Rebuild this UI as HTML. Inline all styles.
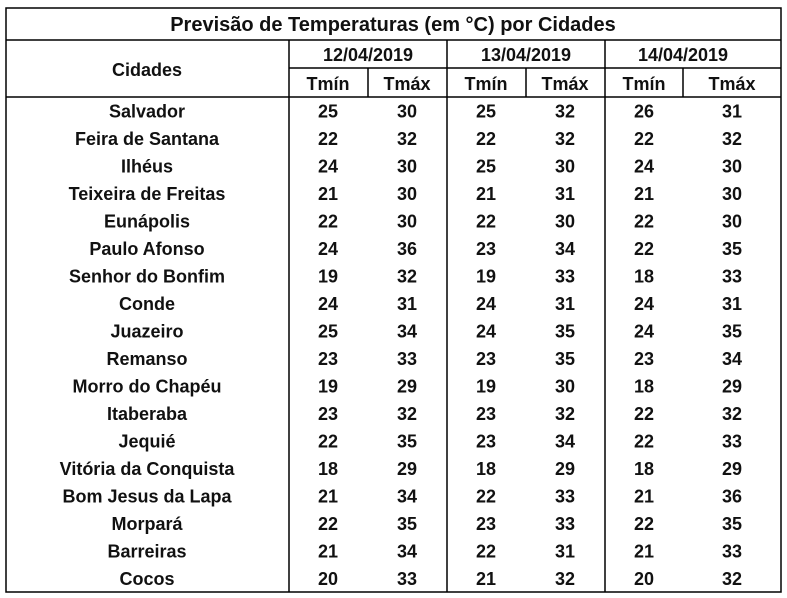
<!DOCTYPE html>
<html><head><meta charset="utf-8"><style>
html,body{margin:0;padding:0;background:#fff;}
svg{display:block;}
text{font-family:"Liberation Sans",sans-serif;font-weight:bold;fill:#111;text-anchor:middle;}
</style></head><body>
<svg width="787" height="598" viewBox="0 0 787 598" xmlns="http://www.w3.org/2000/svg">
<g stroke="#000" stroke-width="1.5" fill="none">
<rect x="6" y="8" width="775" height="584"/>
<line x1="6" y1="40" x2="781" y2="40"/>
<line x1="289" y1="68" x2="781" y2="68"/>
<line x1="6" y1="97" x2="781" y2="97"/>
<line x1="289" y1="40" x2="289" y2="592"/>
<line x1="447" y1="40" x2="447" y2="592"/>
<line x1="605" y1="40" x2="605" y2="592"/>
<line x1="368" y1="68" x2="368" y2="97"/>
<line x1="526" y1="68" x2="526" y2="97"/>
<line x1="683" y1="68" x2="683" y2="97"/>
</g>
<text x="393" y="31" font-size="20">Previsão de Temperaturas (em °C) por Cidades</text>
<text x="147" y="76" font-size="18">Cidades</text>
<g font-size="18">
<text x="368" y="61">12/04/2019</text>
<text x="526" y="61">13/04/2019</text>
<text x="683" y="61">14/04/2019</text>
<text x="328" y="90">Tmín</text><text x="407" y="90">Tmáx</text>
<text x="486" y="90">Tmín</text><text x="565" y="90">Tmáx</text>
<text x="644" y="90">Tmín</text><text x="732" y="90">Tmáx</text>
</g>
<g font-size="18" id="rows"></g>
</svg>
<script>
var d=[["Salvador",25,30,25,32,26,31],["Feira de Santana",22,32,22,32,22,32],["Ilhéus",24,30,25,30,24,30],["Teixeira de Freitas",21,30,21,31,21,30],["Eunápolis",22,30,22,30,22,30],["Paulo Afonso",24,36,23,34,22,35],["Senhor do Bonfim",19,32,19,33,18,33],["Conde",24,31,24,31,24,31],["Juazeiro",25,34,24,35,24,35],["Remanso",23,33,23,35,23,34],["Morro do Chapéu",19,29,19,30,18,29],["Itaberaba",23,32,23,32,22,32],["Jequié",22,35,23,34,22,33],["Vitória da Conquista",18,29,18,29,18,29],["Bom Jesus da Lapa",21,34,22,33,21,36],["Morpará",22,35,23,33,22,35],["Barreiras",21,34,22,31,21,33],["Cocos",20,33,21,32,20,32]];
var xs=[147,328,407,486,565,644,732],g=document.getElementById('rows'),ns="http://www.w3.org/2000/svg";
d.forEach(function(r,i){var y=97+27.5*i+20.5;r.forEach(function(v,j){var t=document.createElementNS(ns,'text');t.setAttribute('x',xs[j]);t.setAttribute('y',y);t.textContent=v;g.appendChild(t);});});
</script>
</body></html>
